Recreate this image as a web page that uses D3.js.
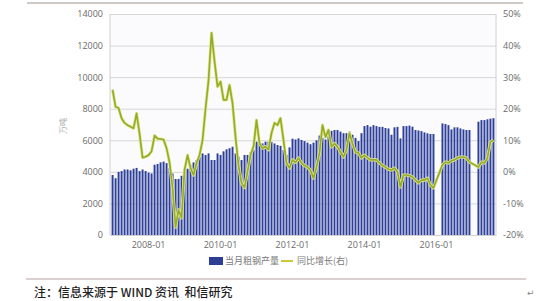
<!DOCTYPE html>
<html>
<head>
<meta charset="utf-8">
<script src="https://cdn.jsdelivr.net/npm/d3@7"></script>
<style>
body { margin: 0; background: #fff; }
svg { display: block; }
</style>
</head>
<body>
<svg id="chart"></svg>
<script>
// data: monthly crude steel output (万吨) and YoY growth (%), 2007-01 .. 2017-08
const years = [2007, 2008, 2009, 2010, 2011, 2012, 2013, 2014, 2015, 2016, 2017];
const steelOutput = [
    3800, 3600, 4000, 4050, 4150, 4150, 4100, 4200, 4250, 4050, 4150, 4050, // 2007
    3950, 3900, 4450, 4500, 4600, 4650, 4550, 4250, 3900, 3550, 3550, 3750, // 2008
    4000, 4200, 4430, 4600, 4750, 4960, 5170, 5070, 5170, 4750, 4750, 5170, // 2009
    5070, 5300, 5430, 5500, 5590, 5170, 4960, 4750, 5070, 5070, 5250, 5400, // 2010
    5910, 5910, 5800, 5910, 5910, 5900, 5800, 5700, 5650, 5380, 5070, 5550, // 2011
    6100, 6050, 6120, 6020, 5950, 5850, 5750, 5850, 6000, 6300, 6150, 6050, // 2012
    6350, 6600, 6650, 6650, 6550, 6450, 6450, 6550, 6350, 6150, 5950, 6450, // 2013
    6900, 6960, 6860, 6960, 6900, 6850, 6850, 6780, 6750, 6350, 6820, 6850, // 2014
    6120, 6900, 6900, 6930, 6860, 6650, 6620, 6580, 6500, 6440, 6400, 6400, // 2015
    null, null, 7070, 7030, 6960, 6690, 6820, 6820, 6750, 6690, 6650, 6650, // 2016
    null, null, 7180, 7280, 7280, 7330, 7370, 7400                          // 2017
];
const yoyGrowth = [
    26, 20.6, 20.2, 17, 15.5, 14.8, 14.3, 13.8, 18.5, 12, 4.5, 4.8,         // 2007
    5.3, 6.5, 11.5, 10.5, 10.4, 10.2, 7.5, 3, -5, -17.5, -12, -14.6,        // 2008
    0.6, 5.3, 1.2, -1, 2.8, 5.3, 10, 20, 29, 44, 35, 27,                     // 2009
    28.6, 22.8, 22.8, 27.5, 21.8, 11, 2, -3.5, -5, 0, 5.3, 8,                // 2010
    16.4, 9, 7.5, 8, 7, 12.3, 15.5, 14.8, 17, 10, 2.8, 1.2,                  // 2011
    3.8, 3, 4.4, 2.8, 2, 1.5, 0.5, -2, 1.5, 6, 14.8, 11,                     // 2012
    13.3, 7.9, 9, 7.9, 6.3, 4.7, 7, 12.3, 9, 6.3, 6, 4.4,                    // 2013
    5.3, 4.5, 3.8, 3.8, 3.8, 2.8, 2, 1.5, 0.8, 0.6, 1.2, 0,                  // 2014
    -4.8, -1, -1, -1.2, -1.6, -2.6, -3.5, -2.6, -2.6, -2, -4.2, -5.1,        // 2015
    null, null, 2.2, 3.1, 2.8, 3.5, 3.8, 4.4, 4.7, 4.7, 4.4, 3.1,            // 2016
    null, null, 1.5, 3.1, 2.8, 4.4, 9.5, 10                                  // 2017
];
const leftTicks = [0, 2000, 4000, 6000, 8000, 10000, 12000, 14000];
const rightTicks = [-20, -10, 0, 10, 20, 30, 40, 50];
const xLabels = ["2008-01", "2010-01", "2012-01", "2014-01", "2016-01"];

// month categories
const months = [];
years.forEach(function(y) {
    for (let m = 1; m <= 12; m++) months.push(y + "-" + (m < 10 ? "0" + m : m));
});
months.length = steelOutput.length;

const data = months.map(function(m, i) {
    return {month: m, output: steelOutput[i], yoy: yoyGrowth[i]};
});

// layout
const width = 553, height = 301;
const plot = {left: 110, right: 496, top: 14, bottom: 235};
const tickFont = '"Open Sans", "Noto Sans", sans-serif';

const svg = d3.select('#chart')
    .attr('width', width)
    .attr('height', height);

// page frame lines
svg.append('line').attr('x1', 27).attr('x2', 523).attr('y1', 3).attr('y2', 3)
    .attr('stroke', '#cfc9c6').attr('stroke-width', 2);
svg.append('line').attr('x1', 26).attr('x2', 526).attr('y1', 279).attr('y2', 279)
    .attr('stroke', '#dccfcf').attr('stroke-width', 2);

// plot background
svg.append('rect')
    .attr('x', plot.left).attr('y', plot.top)
    .attr('width', plot.right - plot.left).attr('height', plot.bottom - plot.top)
    .attr('fill', '#fbfbfd');

// scales
const x = d3.scaleBand()
    .domain(months)
    .range([plot.left, plot.right])
    .paddingInner(0.28)
    .paddingOuter(0.5);
const yLeft = d3.scaleLinear().domain([0, 14000]).range([plot.bottom, plot.top]);
const yRight = d3.scaleLinear().domain([-20, 50]).range([plot.bottom, plot.top]);

// gridlines
svg.append('g')
    .attr('transform', 'translate(' + plot.left + ',0)')
    .call(d3.axisLeft(yLeft).tickValues(leftTicks).tickSize(-(plot.right - plot.left)).tickFormat(''))
    .call(g => g.select('.domain').remove())
    .selectAll('line').attr('stroke', '#d6d6d6');

// vertical axis lines
svg.append('line').attr('x1', plot.left).attr('x2', plot.left)
    .attr('y1', plot.top).attr('y2', plot.bottom).attr('stroke', '#d0d0d0');
svg.append('line').attr('x1', plot.right).attr('x2', plot.right)
    .attr('y1', plot.top).attr('y2', plot.bottom).attr('stroke', '#d0d0d0');

// left axis
svg.append('g')
    .attr('transform', 'translate(' + plot.left + ',0)')
    .call(d3.axisLeft(yLeft).tickValues(leftTicks).tickSize(0).tickPadding(7)
        .tickFormat(d3.format('d')))
    .call(g => g.select('.domain').remove())
    .selectAll('text')
    .style('font-family', tickFont)
    .style('font-size', '9px')
    .attr('fill', '#6a6a6a');

// right axis
svg.append('g')
    .attr('transform', 'translate(' + plot.right + ',0)')
    .call(d3.axisRight(yRight).tickValues(rightTicks).tickSize(0).tickPadding(7)
        .tickFormat(d => d + '%'))
    .call(g => g.select('.domain').remove())
    .selectAll('text')
    .style('font-family', tickFont)
    .style('font-size', '9px')
    .attr('fill', '#6a6a6a');

// x axis labels
svg.append('g')
    .attr('transform', 'translate(0,' + plot.bottom + ')')
    .call(d3.axisBottom(x).tickValues(xLabels).tickSize(0).tickPadding(7))
    .call(g => g.select('.domain').attr('stroke', '#d0d0d0'))
    .selectAll('text')
    .style('font-family', tickFont)
    .style('font-size', '9px')
    .attr('fill', '#6a6a6a');

// y title
svg.append('text')
    .attr('transform', 'translate(66,126)rotate(-90)')
    .attr('text-anchor', 'middle')
    .style('font-family', '"Noto Sans CJK SC", sans-serif')
    .style('font-size', '8px')
    .attr('fill', '#b0b0b0')
    .text('万吨');

// bar gradient
const defs = svg.append('defs');
const grad = defs.append('linearGradient').attr('id', 'barGrad')
    .attr('x1', '0%').attr('x2', '100%').attr('y1', '0%').attr('y2', '0%');
grad.append('stop').attr('offset', '0%').attr('stop-color', '#5a68b4');
grad.append('stop').attr('offset', '50%').attr('stop-color', '#2c3e95');
grad.append('stop').attr('offset', '100%').attr('stop-color', '#5060ad');

// bars
svg.selectAll('.bar')
    .data(data.filter(d => d.output != null))
    .enter()
    .append('rect')
    .attr('class', 'bar')
    .attr('x', d => x(d.month))
    .attr('y', d => yLeft(d.output))
    .attr('width', x.bandwidth())
    .attr('height', d => plot.bottom - yLeft(d.output))
    .attr('fill', 'url(#barGrad)');

// yoy line
const line = d3.line()
    .x(d => x(d.month) + x.bandwidth() / 2)
    .y(d => yRight(d.yoy));
const lineData = data.filter(d => d.yoy != null);
svg.append('path')
    .datum(lineData)
    .attr('d', line)
    .attr('fill', 'none')
    .attr('stroke', '#e3ea96')
    .attr('stroke-width', 3.2)
    .attr('stroke-linejoin', 'round');
svg.append('path')
    .datum(lineData)
    .attr('d', line)
    .attr('fill', 'none')
    .attr('stroke', '#96ab2a')
    .attr('stroke-width', 1.7)
    .attr('stroke-linejoin', 'round');

// legend
const legend = svg.append('g');
legend.append('rect').attr('x', 209).attr('y', 257).attr('width', 14).attr('height', 8)
    .attr('fill', '#2c3f94');
legend.append('text').attr('x', 225).attr('y', 264)
    .style('font-family', '"Noto Sans CJK SC", sans-serif')
    .style('font-size', '9px')
    .attr('fill', '#7a7a7a')
    .text('当月粗钢产量');
legend.append('line').attr('x1', 281).attr('x2', 293).attr('y1', 261).attr('y2', 261)
    .attr('stroke', '#c9c83a').attr('stroke-width', 2);
legend.append('text').attr('x', 297).attr('y', 264)
    .style('font-family', '"Noto Sans CJK SC", sans-serif')
    .style('font-size', '9px')
    .attr('fill', '#7a7a7a')
    .text('同比增长(右)');

// footer note
svg.append('text').attr('x', 34).attr('y', 297)
    .style('font-family', '"Noto Sans CJK SC", sans-serif')
    .style('font-size', '12px')
    .style('font-weight', 500)
    .style('white-space', 'pre')
    .attr('fill', '#1e1e1e')
    .text('注：信息来源于 WIND 资讯  和信研究');
svg.append('text').attr('x', 527).attr('y', 296)
    .style('font-family', '"DejaVu Sans", sans-serif')
    .style('font-size', '9px')
    .attr('fill', '#888')
    .text('↵');
</script>
</body>
</html>
